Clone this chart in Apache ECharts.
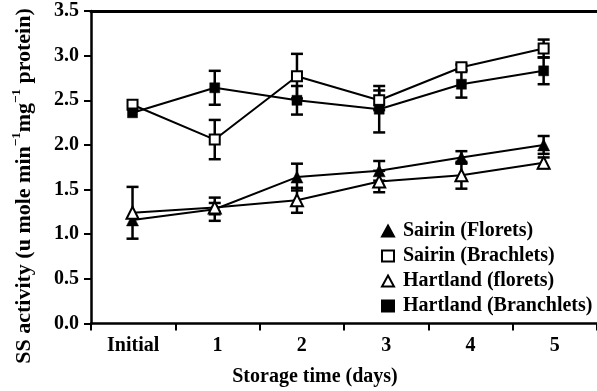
<!DOCTYPE html>
<html>
<head>
<meta charset="utf-8">
<script src="https://cdn.jsdelivr.net/npm/echarts@6/dist/echarts.min.js"></script>
<style>html,body{margin:0;padding:0;background:#fff}#c{width:597px;height:391px}</style>
</head>
<body>
<div id="c"></div>
<script>
// ---- data ----
const categories = ['Initial', '1', '2', '3', '4', '5'];
const seriesNames = ['Sairin (Florets)', 'Sairin (Brachlets)', 'Hartland (florets)', 'Hartland (Branchlets)'];
const sairinFlorets = [1.16, 1.28, 1.64, 1.71, 1.86, 2.00];
const sairinFloretsErr = [0, 0.13, 0.15, 0.11, 0.07, 0.10];
const sairinBrachlets = [2.45, 2.06, 2.77, 2.50, 2.87, 3.08];
const sairinBrachletsErr = [0, 0.22, 0.25, 0.11, 0.03, 0.10];
const hartlandFlorets = [1.24, 1.30, 1.38, 1.59, 1.66, 1.80];
const hartlandFloretsErr = [0.29, 0.05, 0.14, 0.12, 0.15, 0.06];
const hartlandBranchlets = [2.36, 2.64, 2.50, 2.40, 2.68, 2.83];
const hartlandBranchletsErr = [0, 0.19, 0.16, 0.26, 0.15, 0.15];
const yMin = 0, yMax = 3.5, yStep = 0.5;

// ---- styling ----
const FONT = '"Liberation Serif", "Times New Roman", serif';
const pointAxisMin = -0.505, pointAxisMax = 5.649;

function pts(arr) { return arr.map((v, i) => [i, v]); }
function errs(arr, e) {
  const out = [];
  arr.forEach((v, i) => { if (e[i] > 0) out.push([i, v - e[i], v + e[i]]); });
  return out;
}
function errSeries(arr, e) {
  return {
    type: 'custom', xAxisIndex: 1, yAxisIndex: 0, z: 1, silent: true,
    data: errs(arr, e),
    encode: { x: 0, y: [1, 2] },
    renderItem: function (params, api) {
      const x = api.value(0), lo = api.value(1), hi = api.value(2);
      const a = api.coord([x, lo]), b = api.coord([x, hi]);
      const w = 6;
      const st = { stroke: '#000', lineWidth: 2.5 };
      return { type: 'group', children: [
        { type: 'line', shape: { x1: a[0], y1: a[1], x2: b[0], y2: b[1] }, style: st },
        { type: 'line', shape: { x1: a[0] - w, y1: a[1], x2: a[0] + w, y2: a[1] }, style: st },
        { type: 'line', shape: { x1: b[0] - w, y1: b[1], x2: b[0] + w, y2: b[1] }, style: st }
      ] };
    }
  };
}
function lineSeries(name, arr, symbol, size, filled) {
  return {
    name: name, type: 'line', xAxisIndex: 1, yAxisIndex: 0, z: 3,
    data: pts(arr), symbol: symbol, symbolSize: size,
    lineStyle: { color: '#000', width: 2 },
    itemStyle: { color: filled ? '#000' : '#fff', borderColor: '#000', borderWidth: filled ? 0.5 : 2 },
    showSymbol: true, animation: false
  };
}

const chart = echarts.init(document.getElementById('c'), null, { renderer: 'canvas' });
chart.setOption({
  backgroundColor: '#fff',
  animation: false,
  grid: { left: 91, top: 11, width: 512, bottom: 67.5, containLabel: false },
  xAxis: [
    {
      type: 'category', data: categories, boundaryGap: true,
      axisLine: { onZero: false, lineStyle: { color: '#000', width: 2.5 } },
      axisTick: { show: true, length: 7, lineStyle: { color: '#000', width: 2 } },
      axisLabel: { color: '#000', fontFamily: FONT, fontWeight: 'bold', fontSize: 20, margin: 12 },
      splitLine: { show: false }
    },
    {
      type: 'value', min: pointAxisMin, max: pointAxisMax, show: false
    },
    {
      type: 'category', data: categories, position: 'top',
      axisLine: { show: true, onZero: false, lineStyle: { color: '#000', width: 3 } },
      axisTick: { show: false }, axisLabel: { show: false }, splitLine: { show: false }
    }
  ],
  yAxis: [{
    type: 'value', min: yMin, max: yMax, interval: yStep, position: 'left',
    axisLine: { show: true, onZero: false, lineStyle: { color: '#000', width: 2.5 } },
    axisTick: { show: true, length: 7, lineStyle: { color: '#000', width: 2 } },
    axisLabel: { color: '#000', fontFamily: FONT, fontWeight: 'bold', fontSize: 20, margin: 12,
      formatter: v => v.toFixed(1) },
    splitLine: { show: false }
  }],
  legend: {
    orient: 'vertical', left: 381, top: 221, padding: 0,
    itemWidth: 12, itemHeight: 11, itemGap: 5,
    textStyle: { color: '#000', fontFamily: FONT, fontWeight: 'bold', fontSize: 20, lineHeight: 20, padding: [0, 0, 0, 4] },
    data: [
      { name: seriesNames[0], icon: 'triangle' },
      { name: seriesNames[1], icon: 'rect' },
      { name: seriesNames[2], icon: 'triangle' },
      { name: seriesNames[3], icon: 'rect' }
    ]
  },
  graphic: [
    {
      type: 'text', x: 24, y: 186, rotation: Math.PI / 2,
      style: {
        text: '{m|SS activity (u mole min}{s|−1}{m|mg}{s|−1}{m| protein)}',
        align: 'center', verticalAlign: 'middle', textAlign: 'center', textVerticalAlign: 'middle',
        fill: '#000',
        rich: {
          m: { fontFamily: FONT, fontWeight: 'bold', fontSize: 22, lineHeight: 27, fill: '#000' },
          s: { fontFamily: FONT, fontWeight: 'bold', fontSize: 13, verticalAlign: 'top', fill: '#000' }
        }
      }
    },
    {
      type: 'text', x: 315, y: 377,
      style: {
        text: 'Storage time (days)', fill: '#000',
        font: 'bold 20px ' + FONT,
        align: 'center', verticalAlign: 'middle', textAlign: 'center', textVerticalAlign: 'middle'
      }
    }
  ],
  series: [
    errSeries(sairinFlorets, sairinFloretsErr),
    errSeries(sairinBrachlets, sairinBrachletsErr),
    errSeries(hartlandFlorets, hartlandFloretsErr),
    errSeries(hartlandBranchlets, hartlandBranchletsErr),
    lineSeries(seriesNames[0], sairinFlorets, 'triangle', 12, true),
    lineSeries(seriesNames[1], sairinBrachlets, 'rect', 10, false),
    lineSeries(seriesNames[2], hartlandFlorets, 'triangle', 12, false),
    lineSeries(seriesNames[3], hartlandBranchlets, 'rect', 10, true)
  ]
});
</script>
</body>
</html>
